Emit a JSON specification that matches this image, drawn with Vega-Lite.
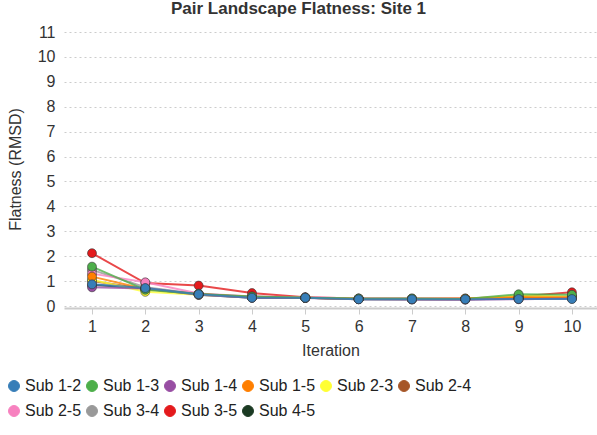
{
  "$schema": "https://vega.github.io/schema/vega-lite/v6.json",
  "autosize": "none",
  "width": 533,
  "height": 274,
  "padding": {"left": 64, "top": 32, "right": 0, "bottom": 129},
  "background": "white",
  "title": {
    "text": "Pair Landscape Flatness: Site 1",
    "font": "Liberation Sans",
    "fontSize": 17,
    "fontWeight": "bold",
    "color": "#333333",
    "anchor": "middle",
    "dx": -32,
    "offset": 6
  },
  "config": {
    "view": {"stroke": null},
    "font": "Liberation Sans"
  },
  "data": {
    "values": [
      {"sub": "Sub 4-5", "iter": 1, "v": 0.85}, {"sub": "Sub 4-5", "iter": 2, "v": 0.7}, {"sub": "Sub 4-5", "iter": 3, "v": 0.45}, {"sub": "Sub 4-5", "iter": 4, "v": 0.33}, {"sub": "Sub 4-5", "iter": 5, "v": 0.33}, {"sub": "Sub 4-5", "iter": 6, "v": 0.27}, {"sub": "Sub 4-5", "iter": 7, "v": 0.27}, {"sub": "Sub 4-5", "iter": 8, "v": 0.27}, {"sub": "Sub 4-5", "iter": 9, "v": 0.3}, {"sub": "Sub 4-5", "iter": 10, "v": 0.3},
      {"sub": "Sub 3-5", "iter": 1, "v": 2.12}, {"sub": "Sub 3-5", "iter": 2, "v": 0.92}, {"sub": "Sub 3-5", "iter": 3, "v": 0.82}, {"sub": "Sub 3-5", "iter": 4, "v": 0.52}, {"sub": "Sub 3-5", "iter": 5, "v": 0.35}, {"sub": "Sub 3-5", "iter": 6, "v": 0.3}, {"sub": "Sub 3-5", "iter": 7, "v": 0.3}, {"sub": "Sub 3-5", "iter": 8, "v": 0.3}, {"sub": "Sub 3-5", "iter": 9, "v": 0.38}, {"sub": "Sub 3-5", "iter": 10, "v": 0.55},
      {"sub": "Sub 3-4", "iter": 1, "v": 1.45}, {"sub": "Sub 3-4", "iter": 2, "v": 0.75}, {"sub": "Sub 3-4", "iter": 3, "v": 0.48}, {"sub": "Sub 3-4", "iter": 4, "v": 0.37}, {"sub": "Sub 3-4", "iter": 5, "v": 0.33}, {"sub": "Sub 3-4", "iter": 6, "v": 0.28}, {"sub": "Sub 3-4", "iter": 7, "v": 0.28}, {"sub": "Sub 3-4", "iter": 8, "v": 0.28}, {"sub": "Sub 3-4", "iter": 9, "v": 0.33}, {"sub": "Sub 3-4", "iter": 10, "v": 0.35},
      {"sub": "Sub 2-5", "iter": 1, "v": 1.3}, {"sub": "Sub 2-5", "iter": 2, "v": 0.95}, {"sub": "Sub 2-5", "iter": 3, "v": 0.5}, {"sub": "Sub 2-5", "iter": 4, "v": 0.38}, {"sub": "Sub 2-5", "iter": 5, "v": 0.35}, {"sub": "Sub 2-5", "iter": 6, "v": 0.3}, {"sub": "Sub 2-5", "iter": 7, "v": 0.28}, {"sub": "Sub 2-5", "iter": 8, "v": 0.28}, {"sub": "Sub 2-5", "iter": 9, "v": 0.3}, {"sub": "Sub 2-5", "iter": 10, "v": 0.38},
      {"sub": "Sub 2-4", "iter": 1, "v": 1.0}, {"sub": "Sub 2-4", "iter": 2, "v": 0.68}, {"sub": "Sub 2-4", "iter": 3, "v": 0.47}, {"sub": "Sub 2-4", "iter": 4, "v": 0.35}, {"sub": "Sub 2-4", "iter": 5, "v": 0.33}, {"sub": "Sub 2-4", "iter": 6, "v": 0.28}, {"sub": "Sub 2-4", "iter": 7, "v": 0.27}, {"sub": "Sub 2-4", "iter": 8, "v": 0.27}, {"sub": "Sub 2-4", "iter": 9, "v": 0.32}, {"sub": "Sub 2-4", "iter": 10, "v": 0.35},
      {"sub": "Sub 2-3", "iter": 1, "v": 1.05}, {"sub": "Sub 2-3", "iter": 2, "v": 0.57}, {"sub": "Sub 2-3", "iter": 3, "v": 0.45}, {"sub": "Sub 2-3", "iter": 4, "v": 0.35}, {"sub": "Sub 2-3", "iter": 5, "v": 0.33}, {"sub": "Sub 2-3", "iter": 6, "v": 0.28}, {"sub": "Sub 2-3", "iter": 7, "v": 0.28}, {"sub": "Sub 2-3", "iter": 8, "v": 0.28}, {"sub": "Sub 2-3", "iter": 9, "v": 0.42}, {"sub": "Sub 2-3", "iter": 10, "v": 0.38},
      {"sub": "Sub 1-5", "iter": 1, "v": 1.18}, {"sub": "Sub 1-5", "iter": 2, "v": 0.68}, {"sub": "Sub 1-5", "iter": 3, "v": 0.48}, {"sub": "Sub 1-5", "iter": 4, "v": 0.35}, {"sub": "Sub 1-5", "iter": 5, "v": 0.33}, {"sub": "Sub 1-5", "iter": 6, "v": 0.28}, {"sub": "Sub 1-5", "iter": 7, "v": 0.28}, {"sub": "Sub 1-5", "iter": 8, "v": 0.3}, {"sub": "Sub 1-5", "iter": 9, "v": 0.35}, {"sub": "Sub 1-5", "iter": 10, "v": 0.35},
      {"sub": "Sub 1-4", "iter": 1, "v": 0.75}, {"sub": "Sub 1-4", "iter": 2, "v": 0.7}, {"sub": "Sub 1-4", "iter": 3, "v": 0.45}, {"sub": "Sub 1-4", "iter": 4, "v": 0.33}, {"sub": "Sub 1-4", "iter": 5, "v": 0.32}, {"sub": "Sub 1-4", "iter": 6, "v": 0.27}, {"sub": "Sub 1-4", "iter": 7, "v": 0.26}, {"sub": "Sub 1-4", "iter": 8, "v": 0.25}, {"sub": "Sub 1-4", "iter": 9, "v": 0.27}, {"sub": "Sub 1-4", "iter": 10, "v": 0.3},
      {"sub": "Sub 1-3", "iter": 1, "v": 1.58}, {"sub": "Sub 1-3", "iter": 2, "v": 0.65}, {"sub": "Sub 1-3", "iter": 3, "v": 0.48}, {"sub": "Sub 1-3", "iter": 4, "v": 0.38}, {"sub": "Sub 1-3", "iter": 5, "v": 0.33}, {"sub": "Sub 1-3", "iter": 6, "v": 0.3}, {"sub": "Sub 1-3", "iter": 7, "v": 0.3}, {"sub": "Sub 1-3", "iter": 8, "v": 0.28}, {"sub": "Sub 1-3", "iter": 9, "v": 0.47}, {"sub": "Sub 1-3", "iter": 10, "v": 0.45},
      {"sub": "Sub 1-2", "iter": 1, "v": 0.87}, {"sub": "Sub 1-2", "iter": 2, "v": 0.72}, {"sub": "Sub 1-2", "iter": 3, "v": 0.47}, {"sub": "Sub 1-2", "iter": 4, "v": 0.33}, {"sub": "Sub 1-2", "iter": 5, "v": 0.33}, {"sub": "Sub 1-2", "iter": 6, "v": 0.27}, {"sub": "Sub 1-2", "iter": 7, "v": 0.27}, {"sub": "Sub 1-2", "iter": 8, "v": 0.27}, {"sub": "Sub 1-2", "iter": 9, "v": 0.28}, {"sub": "Sub 1-2", "iter": 10, "v": 0.28}
    ]
  },
  "encoding": {
    "x": {
      "field": "iter",
      "type": "quantitative",
      "title": "Iteration",
      "scale": {"domain": [0.475, 10.47], "nice": false, "zero": false},
      "axis": {
        "values": [1, 2, 3, 4, 5, 6, 7, 8, 9, 10],
        "format": "d",
        "grid": false,
        "offset": 2,
        "domainColor": "#cccccc",
        "domainWidth": 2,
        "tickColor": "#cccccc",
        "tickSize": 6,
        "labelFontSize": 16,
        "labelColor": "#333333",
        "labelPadding": 4,
        "titleFontSize": 16,
        "titleFontWeight": "normal",
        "titleColor": "#333333",
        "titlePadding": 8
      }
    },
    "y": {
      "field": "v",
      "type": "quantitative",
      "title": "Flatness (RMSD)",
      "scale": {"domain": [0, 11], "nice": false},
      "axis": {
        "values": [0, 1, 2, 3, 4, 5, 6, 7, 8, 9, 10, 11],
        "domain": false,
        "ticks": false,
        "gridColor": "#cccccc",
        "gridDash": [2, 3],
        "labelFontSize": 16,
        "labelColor": "#333333",
        "labelPadding": 9,
        "titleFontSize": 16,
        "titleFontWeight": "normal",
        "titleColor": "#333333",
        "titlePadding": 14
      }
    },
    "color": {
      "field": "sub",
      "type": "nominal",
      "scale": {
        "domain": ["Sub 1-2", "Sub 1-3", "Sub 1-4", "Sub 1-5", "Sub 2-3", "Sub 2-4", "Sub 2-5", "Sub 3-4", "Sub 3-5", "Sub 4-5"],
        "range": ["#377eb8", "#4daf4a", "#984ea3", "#ff7f00", "#ffff33", "#a65628", "#f781bf", "#999999", "#e41a1c", "#1b3a23"]
      },
      "legend": {
        "title": null,
        "orient": "none",
        "legendX": -58,
        "legendY": 346,
        "direction": "horizontal",
        "columns": 6,
        "symbolType": "circle",
        "symbolSize": 120,
        "symbolStrokeWidth": 1,
        "symbolOpacity": 1,
        "labelFontSize": 16,
        "labelColor": "#222222",
        "labelOffset": 3,
        "columnPadding": 2,
        "rowPadding": 9,
        "encode": {
          "symbols": {"update": {"stroke": {"value": "#222222"}, "strokeWidth": {"value": 1}, "opacity": {"value": 1}, "fillOpacity": {"value": 1}}}
        }
      }
    }
  },
  "layer": [
    {
      "mark": {"type": "line", "strokeWidth": 2, "strokeOpacity": 0.8}
    },
    {
      "mark": {"type": "point", "filled": true, "size": 80, "stroke": "#333333", "strokeWidth": 0.6, "opacity": 1}
    }
  ]
}
